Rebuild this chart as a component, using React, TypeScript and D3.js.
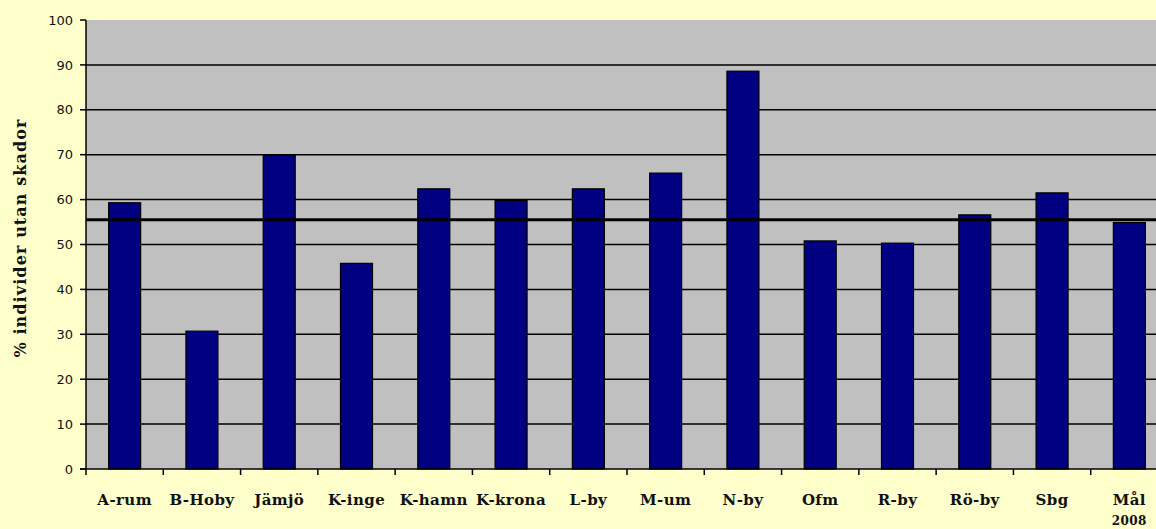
import React from "react";
import * as d3 from "d3";

const categories = ["A-rum", "B-Hoby", "Jämjö", "K-inge", "K-hamn", "K-krona", "L-by", "M-um", "N-by", "Ofm", "R-by", "Rö-by", "Sbg", "Mål\n2008"];
const values = [59.3, 30.7, 69.9, 45.8, 62.4, 59.8, 62.4, 65.9, 88.6, 50.8, 50.3, 56.6, 61.5, 54.9];
const referenceValue = 55.5;
const yTicks = [0, 10, 20, 30, 40, 50, 60, 70, 80, 90, 100];
const yLabel = "% individer utan skador";

const W = 1156;
const H = 529;
const left = 86;
const right = 1168;
const top = 20;
const bottom = 469;

export default function App() {
  const x = d3.scaleBand<string>().domain(categories).range([left, right]).paddingInner(0.586).paddingOuter(0.293);
  const y = d3.scaleLinear().domain([0, 100]).range([bottom, top]);
  const step = x.step();
  const serif = "'DejaVu Serif', serif";
  const sans = "'DejaVu Sans', sans-serif";
  return (
    <>
      <style>{"body{margin:0;}"}</style>
      <svg width={W} height={H} style={{ display: "block" }}>
        <rect x={0} y={0} width={W} height={H} fill="#FFFFCC" />
        <rect x={left} y={top} width={right - left} height={bottom - top} fill="#C0C0C0" />
        {yTicks.filter((t) => t > 0 && t < 100).map((t) => (
          <line key={"g" + t} x1={left} x2={right} y1={y(t)} y2={y(t)} stroke="#000" strokeWidth={1.5} />
        ))}
        {categories.map((c, i) => (
          <rect
            key={c}
            x={x(c)}
            y={y(values[i])}
            width={x.bandwidth()}
            height={bottom - y(values[i])}
            fill="#000080"
            stroke="#000"
            strokeWidth={1.2}
          />
        ))}
        <line x1={left} x2={right} y1={y(referenceValue)} y2={y(referenceValue)} stroke="#000" strokeWidth={3} />
        <line x1={left} x2={left} y1={top} y2={bottom} stroke="#000" strokeWidth={1.5} />
        <line x1={left - 6} x2={right} y1={bottom} y2={bottom} stroke="#000" strokeWidth={1.5} />
        {yTicks.map((t) => (
          <g key={"t" + t}>
            <line x1={left - 6} x2={left} y1={y(t)} y2={y(t)} stroke="#000" strokeWidth={1.5} />
            <text x={left - 13} y={y(t)} dy="0.36em" textAnchor="end" fontFamily={sans} fontSize={13} fill="#111">
              {t}
            </text>
          </g>
        ))}
        {categories.map((c, i) => (
          <line key={"xt" + i} x1={left + i * step} x2={left + i * step} y1={bottom} y2={bottom + 6} stroke="#000" strokeWidth={1.5} />
        ))}
        {categories.map((c) => {
          const lines = c.split("\n");
          const cx = (x(c) as number) + x.bandwidth() / 2;
          return (
            <text key={"l" + c} x={cx} y={505} textAnchor="middle" fontFamily={serif} fontWeight="bold" fontSize={15} letterSpacing={0.4} fill="#111">
              {lines.map((ln, j) => (
                <tspan key={j} x={cx} dy={j === 0 ? 0 : 20} fontSize={j === 0 ? 15 : 12}>
                  {ln}
                </tspan>
              ))}
            </text>
          );
        })}
        <text
          transform={`translate(26,238) rotate(-90)`}
          textAnchor="middle"
          fontFamily={serif}
          fontWeight="bold"
          fontSize={16}
          letterSpacing={1.1}
          fill="#111"
        >
          {yLabel}
        </text>
      </svg>
    </>
  );
}
